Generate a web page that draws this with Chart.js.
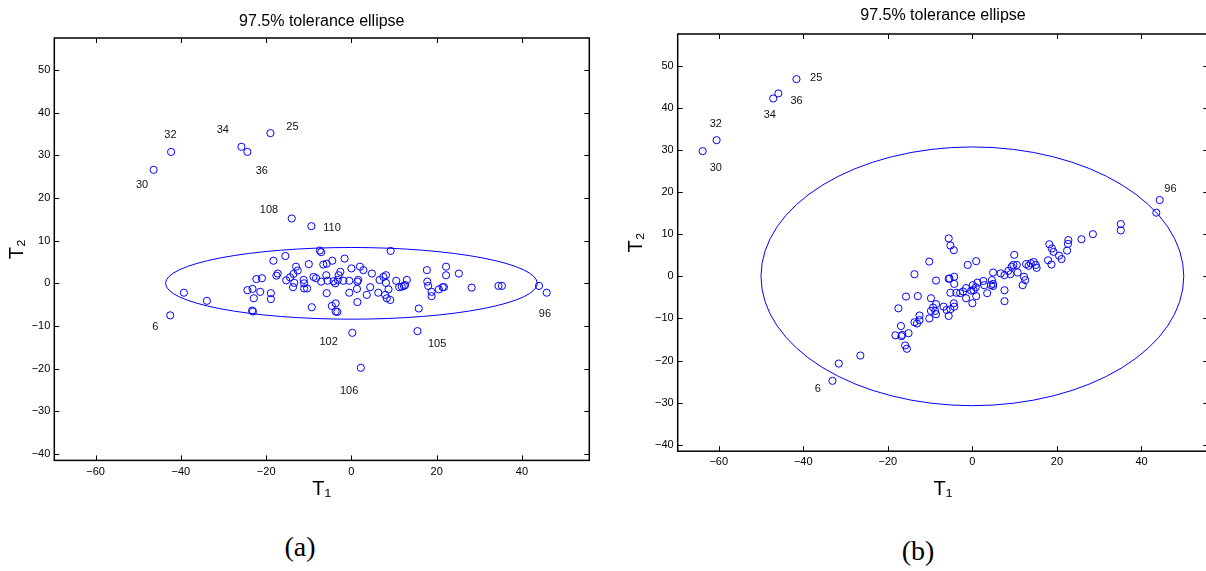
<!DOCTYPE html>
<html>
<head>
<meta charset="utf-8">
<title>97.5% tolerance ellipse</title>
<script src="https://cdn.jsdelivr.net/npm/chart.js@4.4.1/dist/chart.umd.min.js"></script>
<style>
  html, body { margin: 0; padding: 0; background: #fff; overflow: hidden; }
  body { position: relative; width: 1206px; height: 571px; }
  canvas { position: absolute; top: 0; }
  #panelA { left: 0; }
  #panelB { left: 600px; }
  .caption { position: absolute; font-family: 'Liberation Serif', serif; font-size: 28px; color: #000; transform: translate(-50%, -50%); }
</style>
</head>
<body>
<canvas id="panelA" width="600" height="520"></canvas>
<canvas id="panelB" width="620" height="520"></canvas>
<div class="caption" style="left:300px; top:547px">(a)</div>
<div class="caption" style="left:918px; top:551px">(b)</div>
<script>
// ---- data, panel (a) ----
const aT1 = [-46.4, -42.3, -25.8, -24.4, -19.0, -14.0, -9.4, -42.5, 0.2, 15.5, 2.2, 45.8,
  44.0, -39.3, -33.9, -24.4, -23.2, -21.4, -22.9, -23.3, -23.1, -22.3, -21.0, -18.9, -18.9, -18.3,
  -15.5, -17.6, -17.3, -15.3, -14.4, -13.6, -13.0, -12.6, -13.4, -13.7, -11.2, -11.1, -11.1, -10.4,
  -10.0, -8.9, -8.3, -9.3, -7.4, -7.1, -7.1, -6.6, -5.8, -4.5, -5.9, -5.8, -5.6, -4.2, -3.8, -4.6,
  -3.7, -3.7, -3.3, -3.0, -2.6, -3.2, -1.6, -1.9, -0.5, -0.5, 0.0, 1.4, 1.6, 1.3, 1.4, 2.0, 2.8,
  3.6, 4.4, 4.8, 6.3, 6.6, 7.5, 8.1, 8.1, 7.9, 8.3, 8.7, 9.1, 9.2, 10.5, 11.2, 11.8, 12.3, 12.6,
  13.0, 15.8, 17.7, 17.8, 18.0, 18.8, 18.8, 20.5, 21.4, 21.7, 22.2, 22.2, 25.2, 28.2, 34.5, 35.3];
const aT2 = [26.6, 30.8, 32.0, 30.8, 35.2, 15.2, 13.4, -7.5, -11.6, -11.2, -19.8, -2.2,
  -0.6, -2.2, -4.1, -1.6, -1.3, -2.0, -3.5, -6.4, -6.6, 1.0, 1.2, -2.3, -3.7, 5.3,
  6.4, 1.8, 2.3, 0.7, 1.4, 2.2, 3.9, 3.0, 0.1, -0.9, 0.8, 0.0, -1.2, -1.2,
  4.5, 1.5, 1.2, -5.6, 7.7, 7.3, 0.4, 4.4, 4.6, 5.3, 1.9, -2.3, 0.6, 0.5, 0.0, -5.3,
  -4.7, -6.6, -6.7, 1.9, 2.7, 0.8, 5.8, 0.6, 0.6, -2.2, 3.5, 0.4, 0.8, -1.3, -4.4, 3.9, 3.1,
  -2.7, -0.9, 2.3, -2.2, 0.8, 1.5, 1.9, 0.1, -2.7, -3.5, -1.4, -3.9, 7.6, 0.6, -0.9, -0.8, -0.6, -0.4,
  0.8, -5.9, 3.1, 0.4, -0.6, -2.0, -3.0, -1.4, -0.9, -0.9, 3.9, 1.9, 2.3, -1.0, -0.6, -0.6];
const aTagIndex = [0, 1, 2, 3, 4, 5, 6, 7, 8, 9, 10, 11];
const aTagText = ['30', '32', '34', '36', '25', '108', '110', '6', '102', '105', '106', '96'];
const aEllipse = [0, 0, 43.6, 8.4]; // centre T1, centre T2, half-axis T1, half-axis T2

// ---- data, panel (b) ----
const bT1 = [-41.6, -45.9, -47.1, -60.5, -63.8, 44.3, -33.1,
  43.5, 35.1, 35.1, 28.5, 25.8, 22.7, 22.6, 22.4, 18.2, 18.8, 19.2, 20.5, 21.1, 17.9, 18.7, 12.7,
  13.3, 14.5, 15.0, 15.2, 13.8, 9.9, 9.7, 10.5, 9.3, 10.7, 9.0, 12.2, 11.9, 12.5, 8.5, 7.6, 6.7,
  4.9, 7.6, 4.6, 4.9, 4.4, 4.9, 2.6, 2.8, 1.2, 0.1, 0.8, -1.1, 0.9, -5.6, -5.2, -4.4, -10.2, -13.7,
  -8.6, -5.6, -5.4, -4.3, -4.3, -5.2, -3.8, -2.9, -2.2, -1.5, -0.3, 0.3, -15.7, -12.9, -9.8, 7.6,
  3.5, 0.0, -1.5, 0.9, -4.4, -4.3, -5.6, -6.8, -6.1, -5.2, -8.6, -9.3, -8.8, -9.8, -8.6, -10.2,
  -12.5, -12.5, -13.1, -13.7, -17.5, -16.9, -18.2, -16.8, -16.6, -15.1, -15.9, -15.5, -26.5, -31.6];
const bT2 = [46.8, 43.4, 42.2, 32.3, 29.7, 18.1, -24.8,
  15.1, 12.4, 10.9, 10.0, 8.8, 8.6, 7.7, 6.1, 7.6, 6.6, 5.8, 4.9, 4.1, 3.8, 2.8, 2.9,
  2.5, 3.4, 2.7, 2.0, 3.1, 5.1, 2.7, 2.7, 2.3, 0.9, 0.5, -0.1, -2.1, -0.9, 1.3, 0.3, 0.7,
  0.9, -3.3, -0.9, -1.8, -2.1, -2.3, -1.1, -2.1, -1.5, -2.1, -2.6, 2.7, 3.6, 9.0, 7.3, 6.2, 3.5, 0.5,
  -1.0, -0.6, -0.5, -0.1, -1.8, -3.9, -3.9, -4.0, -3.6, -2.8, -3.4, -3.3, -4.8, -4.7, -5.2, -5.9,
  -4.0, -6.4, -5.2, -4.7, -6.4, -7.2, -9.4, -7.2, -8.0, -7.8, -6.6, -7.4, -8.2, -8.2, -9.0, -10.0,
  -9.3, -10.4, -11.2, -10.9, -7.6, -11.8, -14.0, -14.2, -13.9, -13.5, -16.4, -17.2, -18.8, -20.7];
const bTagIndex = [0, 1, 2, 3, 4, 5, 6];
const bTagText = ['25', '36', '34', '32', '30', '96', '6'];
const bEllipse = [0, 0, 50.0, 30.7];

// ---- axes ----
const t1Ticks = [-60, -40, -20, 0, 20, 40];
const t2Ticks = [-40, -30, -20, -10, 0, 10, 20, 30, 40, 50];
const t1Range = [-69.7, 55.8];
const t2Range = [-41.5, 57.5];

const BLUE = '#0000ff';
const FONT = "'Liberation Sans', Arial, sans-serif";
const minus = (v) => String(v).replace('-', '\u2212');

// box with inward ticks on all four sides
const frame = {
  id: 'frame',
  afterDraw(chart) {
    const { ctx, chartArea: a, scales: { x, y } } = chart;
    const len = 5;
    ctx.save();
    ctx.strokeStyle = '#000';
    ctx.lineWidth = 1;
    ctx.beginPath();
    x.ticks.forEach((t) => {
      const px = Math.round(x.getPixelForValue(t.value)) + 0.5;
      ctx.moveTo(px, a.bottom); ctx.lineTo(px, a.bottom - len);
      ctx.moveTo(px, a.top); ctx.lineTo(px, a.top + len);
    });
    y.ticks.forEach((t) => {
      const py = Math.round(y.getPixelForValue(t.value)) + 0.5;
      ctx.moveTo(a.left, py); ctx.lineTo(a.left + len, py);
      ctx.moveTo(a.right, py); ctx.lineTo(a.right - len, py);
    });
    ctx.stroke();
    ctx.lineWidth = 1.5;
    ctx.strokeRect(a.left, a.top, a.right - a.left, a.bottom - a.top);
    ctx.restore();
  }
};

// tolerance ellipse, placed through the scales
const ellipse = {
  id: 'ellipse',
  beforeDatasetsDraw(chart, args, opts) {
    const { ctx, scales: { x, y } } = chart;
    const [c1, c2, r1, r2] = opts.shape;
    const cx = x.getPixelForValue(c1);
    const cy = y.getPixelForValue(c2);
    const rx = x.getPixelForValue(c1 + r1) - cx;
    const ry = cy - y.getPixelForValue(c2 + r2);
    ctx.save();
    ctx.strokeStyle = BLUE;
    ctx.lineWidth = 1;
    ctx.beginPath();
    ctx.ellipse(cx, cy, rx, ry, 0, 0, Math.PI * 2);
    ctx.stroke();
    ctx.restore();
  }
};

// observation numbers next to the outlying points
const tags = {
  id: 'tags',
  afterDatasetsDraw(chart, args, opts) {
    const { ctx } = chart;
    const pts = chart.getDatasetMeta(0).data;
    ctx.save();
    ctx.fillStyle = '#111';
    ctx.font = '11px ' + FONT;
    ctx.textAlign = 'center';
    ctx.textBaseline = 'middle';
    opts.index.forEach((i, k) => {
      const [dx, dy] = opts.offset[k];
      ctx.fillText(opts.text[k], pts[i].x + dx, pts[i].y + dy);
    });
    ctx.restore();
  }
};

function makePanel(id, t1, t2, tagIndex, tagText, shape, look) {
  new Chart(document.getElementById(id), {
    type: 'scatter',
    data: {
      datasets: [{
        data: t1.map((v, i) => ({ x: v, y: t2[i] })),
        pointStyle: 'circle',
        pointRadius: 3.6,
        pointHoverRadius: 3.6,
        borderWidth: 1,
        borderColor: BLUE,
        backgroundColor: 'rgba(0,0,0,0)'
      }]
    },
    options: {
      responsive: false,
      animation: false,
      events: [],
      layout: { padding: { left: 0, right: look.padRight, top: 0, bottom: 0 } },
      plugins: {
        legend: { display: false },
        tooltip: { enabled: false },
        title: {
          display: true,
          text: '97.5% tolerance ellipse',
          color: '#000',
          fullSize: false,
          font: { family: FONT, size: 16, weight: 'normal' },
          padding: look.titlePad
        },
        ellipse: { shape },
        tags: { index: tagIndex, text: tagText, offset: look.tagOffset }
      },
      scales: {
        x: {
          type: 'linear',
          min: t1Range[0],
          max: t1Range[1],
          afterBuildTicks: (s) => { s.ticks = t1Ticks.map((v) => ({ value: v })); },
          afterFit: (s) => { s.height = look.xHeight; },
          grid: { display: false, drawTicks: false },
          border: { display: false },
          ticks: { color: '#000', padding: 4.6, font: { family: FONT, size: 11 }, callback: minus, maxRotation: 0 },
          title: { display: true, text: 'T\u2081', color: '#000', font: { family: FONT, size: 20 }, padding: { top: 0, bottom: 19 } }
        },
        y: {
          type: 'linear',
          min: t2Range[0],
          max: t2Range[1],
          afterBuildTicks: (s) => { s.ticks = t2Ticks.map((v) => ({ value: v })); },
          afterFit: (s) => { s.width = look.yWidth; },
          grid: { display: false, drawTicks: false },
          border: { display: false },
          ticks: { color: '#000', padding: 4, font: { family: FONT, size: 11 }, callback: minus },
          title: { display: true, text: 'T\u2082', color: '#000', font: { family: FONT, size: 20 }, padding: { top: look.yTitlePad, bottom: 0 } }
        }
      }
    },
    plugins: [ellipse, tags, frame]
  });
}

makePanel('panelA', aT1, aT2, aTagIndex, aTagText, aEllipse, {
  padRight: 10.7,
  titlePad: { top: 12.4, bottom: 6.4 },
  xHeight: 59.6,
  yWidth: 54.3,
  yTitlePad: 5,
  tagOffset: [[-11.6, 15], [-0.7, -17.4], [-18.7, -16.7], [14.4, 18.7], [22, -6.6], [-22.7, -8.3],
    [20.7, 2.3], [-15, 11.4], [-23.7, 8.7], [19.6, 13], [-11.7, 23.3], [-1.7, 21.3]]
});

makePanel('panelB', bT1, bT2, bTagIndex, bTagText, bEllipse, {
  padRight: 11.7,
  titlePad: { top: 6.4, bottom: 8.4 },
  xHeight: 68.8,
  yWidth: 77.7,
  yTitlePad: 24.6,
  tagOffset: [[19.7, -0.7], [18.2, 7.7], [-3.5, 16], [-0.8, -16], [13.2, 17], [10.8, -11], [-14.7, 8]]
});
</script>
</body>
</html>
